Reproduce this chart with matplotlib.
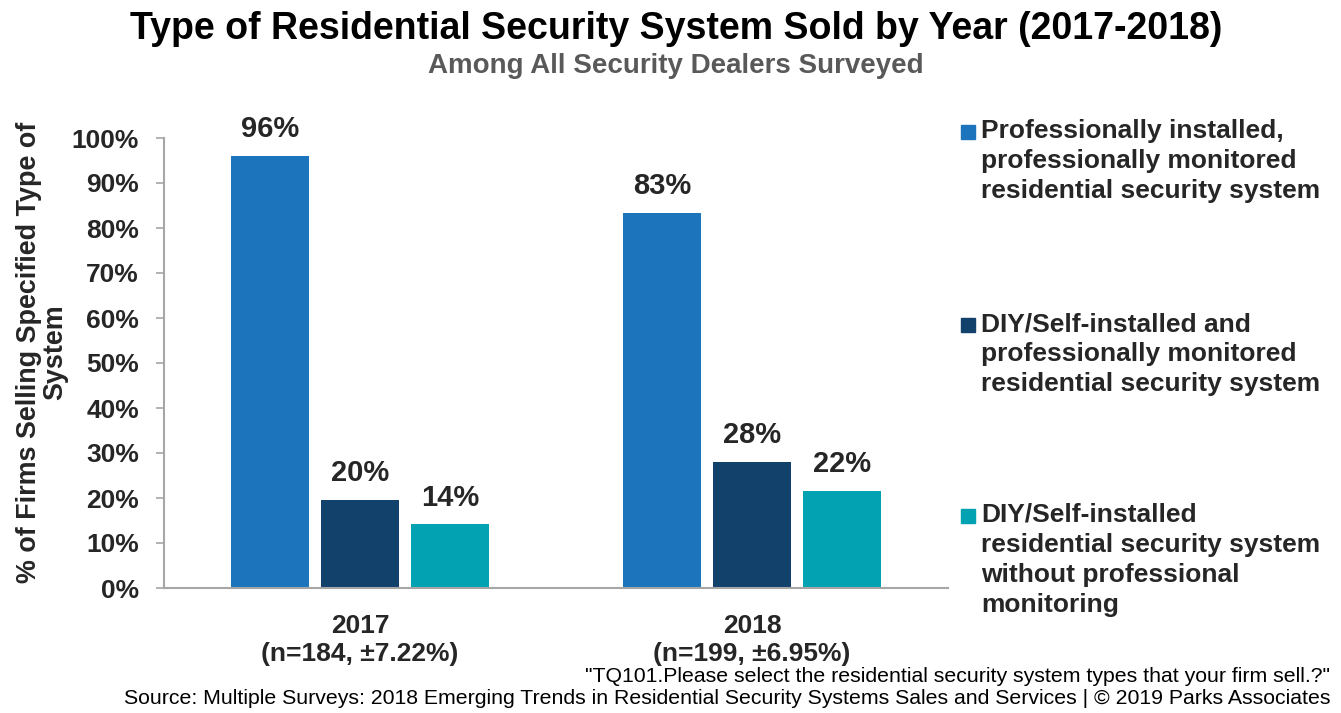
import matplotlib
matplotlib.use("Agg")
import matplotlib.pyplot as plt
from matplotlib.patches import Rectangle
import numpy as np

plt.rcParams['font.family'] = ['Liberation Sans', 'DejaVu Sans']

years = ["2017\n(n=184, \u00b17.22%)", "2018\n(n=199, \u00b16.95%)"]
series_names = [
    "Professionally installed,\nprofessionally monitored\nresidential security system",
    "DIY/Self-installed and\nprofessionally monitored\nresidential security system",
    "DIY/Self-installed\nresidential security system\nwithout professional\nmonitoring",
]
pro_pro = [96.1, 83.4]
diy_pro = [19.6, 28.1]
diy_none = [14.2, 21.6]
values = [pro_pro, diy_pro, diy_none]
colors = ["#1c75bc", "#12416b", "#03a2b2"]
yticks = [0, 10, 20, 30, 40, 50, 60, 70, 80, 90, 100]

TXT = "#262626"
W, H = 1341, 713
fig = plt.figure(figsize=(W / 100, H / 100), dpi=100)
ax = fig.add_axes([164 / W, 1 - 588 / H, (948 - 164) / W, (588 - 138) / H])

x = np.arange(len(years))
bw = 0.2
step = 0.23
for i, (vals, c) in enumerate(zip(values, colors)):
    pos = x + (i - 1) * step
    bars = ax.bar(pos, vals, width=bw, color=c, zorder=2)
    for b, v in zip(bars, vals):
        ax.annotate(f"{v:.0f}%", (b.get_x() + b.get_width() / 2, v),
                    xytext=(0, 9), textcoords="offset points",
                    ha="center", va="bottom", fontsize=21, fontweight="bold", color=TXT)

ax.set_xlim(-0.5, 1.5)
ax.set_ylim(0, 100)
ax.set_yticks(yticks)
ax.set_yticklabels([f"{t}%" for t in yticks], fontsize=19, fontweight="bold", color=TXT)
ax.set_xticks(x)
ax.set_xticklabels(years, fontsize=19, fontweight="bold", color=TXT, linespacing=1.17)
ax.tick_params(axis="x", length=0, pad=19)
ax.tick_params(axis="y", length=6, width=1.2, color="#a6a6a6", pad=12)
for s in ["top", "right"]:
    ax.spines[s].set_visible(False)
for s in ["left", "bottom"]:
    ax.spines[s].set_color("#a6a6a6")
    ax.spines[s].set_linewidth(1.5)

ax.set_ylabel("% of Firms Selling Specified Type of\nSystem", fontsize=19.4, fontweight="bold",
              color=TXT, linespacing=1.0)
ax.yaxis.set_label_coords(-0.122, 0.523)

fig.text(676 / W, 1 - 29 / H, "Type of Residential Security System Sold by Year (2017-2018)",
         ha="center", va="center", fontsize=27, fontweight="bold", color="black")
fig.text(676 / W, 1 - 66 / H, "Among All Security Dealers Surveyed",
         ha="center", va="center", fontsize=20, fontweight="bold", color="#595959")

# legend
leg_y = [132, 325, 516]
for name, c, yy in zip(series_names, colors, leg_y):
    fig.patches.append(Rectangle((961 / W, 1 - (yy + 7) / H), 14 / W, 14 / H,
                                 transform=fig.transFigure, color=c))
    fig.text(981 / W, 1 - (yy - 13) / H, name, ha="left", va="top", fontsize=19,
             fontweight="bold", color=TXT, linespacing=1.32)

fig.text(1330 / W, 1 - 677 / H,
         "\"TQ101.Please select the residential security system types that your firm sell.?\"",
         ha="right", va="center", fontsize=15.3, color="black")
fig.text(1330 / W, 1 - 699 / H,
         "Source: Multiple Surveys: 2018 Emerging Trends in Residential Security Systems Sales and Services | \u00a9 2019 Parks Associates",
         ha="right", va="center", fontsize=15.3, color="black")

fig.savefig("out.png", dpi=100)
